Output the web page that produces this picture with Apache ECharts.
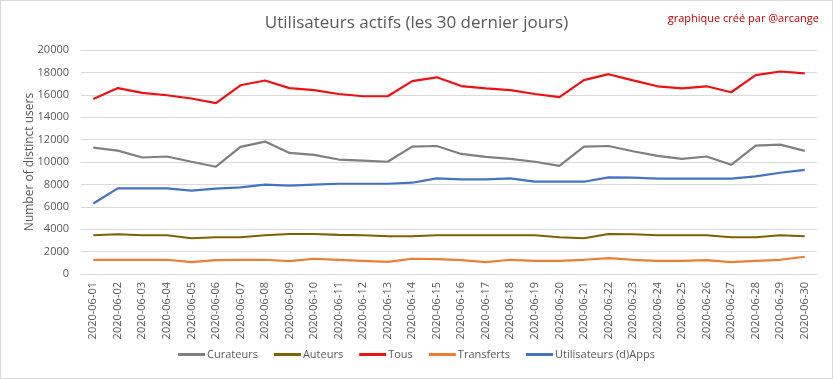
<!DOCTYPE html>
<html>
<head>
<meta charset="utf-8">
<script src="https://cdn.jsdelivr.net/npm/echarts@6/dist/echarts.min.js"></script>
<style>
html,body{margin:0;padding:0;background:#fff;}
#c{width:833px;height:379px;box-sizing:border-box;border:1px solid #d9d9d9;}
</style>
</head>
<body>
<div id="c"></div>
<script>
const categories = ["2020-06-01","2020-06-02","2020-06-03","2020-06-04","2020-06-05","2020-06-06","2020-06-07","2020-06-08","2020-06-09","2020-06-10","2020-06-11","2020-06-12","2020-06-13","2020-06-14","2020-06-15","2020-06-16","2020-06-17","2020-06-18","2020-06-19","2020-06-20","2020-06-21","2020-06-22","2020-06-23","2020-06-24","2020-06-25","2020-06-26","2020-06-27","2020-06-28","2020-06-29","2020-06-30"];
const curateurs = [11290,11020,10400,10490,10020,9580,11350,11820,10810,10640,10220,10130,10020,11370,11430,10720,10460,10280,10020,9660,11370,11430,10960,10550,10280,10490,9750,11460,11550,10990];
const auteurs = [3460,3550,3460,3460,3190,3280,3280,3460,3570,3570,3490,3460,3370,3370,3460,3460,3460,3460,3460,3280,3190,3570,3550,3460,3460,3460,3280,3280,3460,3370];
const tous = [15620,16600,16170,15960,15670,15250,16850,17280,16600,16420,16070,15870,15870,17220,17560,16780,16570,16410,16070,15790,17310,17840,17290,16760,16570,16760,16230,17750,18080,17910];
const transferts = [1270,1270,1270,1270,1060,1240,1270,1270,1150,1360,1270,1180,1090,1360,1330,1240,1060,1270,1180,1180,1270,1420,1270,1180,1180,1240,1060,1180,1270,1540];
const apps = [6290,7650,7650,7650,7440,7620,7740,7980,7890,7980,8060,8060,8060,8150,8540,8450,8450,8540,8240,8240,8240,8620,8600,8510,8510,8510,8510,8710,9040,9300];
const yTicks = {min:0, max:20000, interval:2000};

const chart = echarts.init(document.getElementById('c'));
const font = "'Open Sans', 'Liberation Sans', sans-serif";
function s(name, data, color){
  return {name, type:'line', data, symbol:'none', smooth:false,
    lineStyle:{width:2.2,color}, itemStyle:{color}};
}
chart.setOption({
  animation:false,
  title:[
    {text:'Utilisateurs actifs (les 30 dernier jours)', left:'center', top:9,
     textStyle:{fontFamily:font, fontSize:17, fontWeight:'normal', color:'#595959'}},
    {text:'graphique créé par @arcange', right:8, top:7,
     textStyle:{fontFamily:font, fontSize:11, fontWeight:'normal', color:'#c00000'}}
  ],
  legend:{bottom:13, left:'center', itemWidth:27, itemHeight:3, itemGap:16,
    icon:'rect',
    textStyle:{fontFamily:font, fontSize:11, color:'#595959', padding:[0,0,0,-3]},
    data:['Curateurs','Auteurs','Tous','Transferts','Utilisateurs (d)Apps']},
  grid:{left:80, right:15, top:49, bottom:104},
  xAxis:{type:'category', data:categories, boundaryGap:true,
    axisLine:{lineStyle:{color:'#d9d9d9'}}, axisTick:{show:false},
    axisLabel:{rotate:90, interval:0, fontFamily:font, fontSize:11, color:'#595959', margin:8}},
  yAxis:{type:'value', min:yTicks.min, max:yTicks.max, interval:yTicks.interval,
    name:'Number of distinct users', nameLocation:'middle', nameGap:45, nameMoveOverlap:false,
    nameTextStyle:{fontFamily:font, fontSize:12, color:'#595959'},
    axisLine:{show:false}, axisTick:{show:false},
    axisLabel:{fontFamily:font, fontSize:11, color:'#595959', margin:12,
      formatter:function(v){return String(v);}},
    splitLine:{lineStyle:{color:'#d9d9d9'}}},
  series:[
    s('Curateurs', curateurs, '#7f7f7f'),
    s('Auteurs', auteurs, '#7f6000'),
    s('Tous', tous, '#ee1111'),
    s('Transferts', transferts, '#ed7d31'),
    s('Utilisateurs (d)Apps', apps, '#4472c4')
  ]
});
</script>
</body>
</html>
